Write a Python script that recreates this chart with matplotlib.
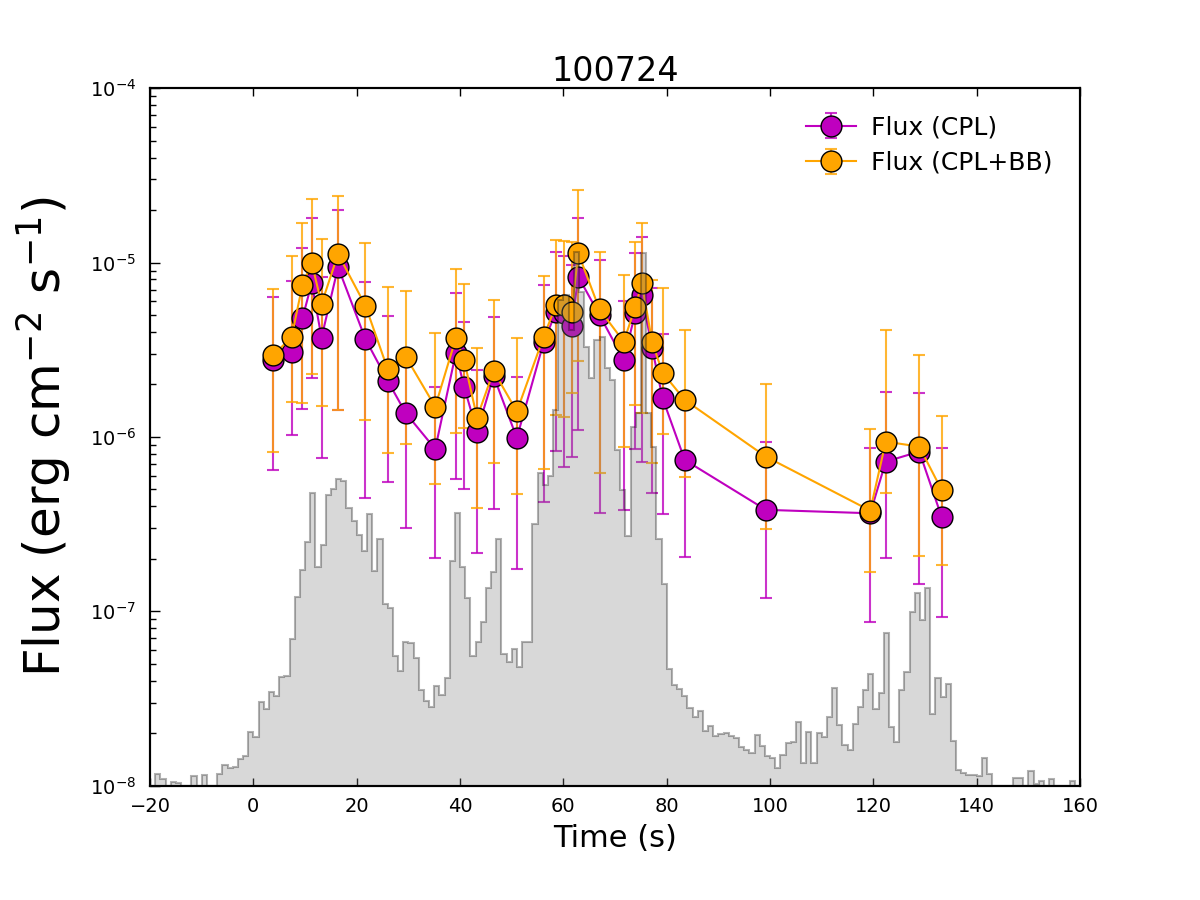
import numpy as np
import matplotlib
matplotlib.use("Agg")
import matplotlib.pyplot as plt

plt.rcParams['font.family'] = ['DejaVu Sans']
plt.rcParams['mathtext.default'] = 'regular'

title = "100724"

# time-resolved spectral bins (s)
t = [3.9, 7.4, 9.5, 11.3, 13.2, 16.4, 21.7, 26.0, 29.5, 35.2, 39.2, 40.8, 43.3, 46.5,
     51.0, 56.2, 58.6, 60.1, 61.6, 62.9, 67.0, 71.7, 73.9, 75.2, 77.2, 79.2, 83.5,
     99.2, 119.4, 122.4, 128.9, 133.2]

# CPL flux and error-bar ends
cpl = [2.76e-6, 3.07e-6, 4.78e-6, 7.63e-6, 3.71e-6, 9.42e-6, 3.64e-6, 2.10e-6, 1.37e-6,
       8.53e-7, 3.03e-6, 1.94e-6, 1.07e-6, 2.24e-6, 9.87e-7, 3.50e-6, 5.23e-6, 5.14e-6,
       4.34e-6, 8.29e-6, 5.00e-6, 2.76e-6, 5.12e-6, 6.51e-6, 3.22e-6, 1.67e-6, 7.38e-7,
       3.82e-7, 3.65e-7, 7.22e-7, 8.24e-7, 3.49e-7]
cpl_hi = [6.32e-6, 7.86e-6, 1.21e-5, 1.81e-5, 8.29e-6, 2.00e-5, 7.76e-6, 4.96e-6, 2.76e-6,
          1.94e-6, 6.66e-6, 4.58e-6, 2.42e-6, 4.85e-6, 2.20e-6, 7.43e-6, 1.15e-5, 1.09e-5,
          9.68e-6, 1.79e-5, 1.03e-5, 6.04e-6, 1.14e-5, 1.41e-5, 7.11e-6, 3.88e-6, 1.53e-6,
          9.40e-7, 8.61e-7, 1.80e-6, 1.78e-6, 8.68e-7]
cpl_lo = [6.47e-7, 1.03e-6, 1.44e-6, 2.18e-6, 7.55e-7, 1.42e-6, 4.45e-7, 5.50e-7, 3.02e-7,
          2.02e-7, 5.72e-7, 5.01e-7, 2.17e-7, 3.85e-7, 1.75e-7, 4.26e-7, 8.35e-7, 6.71e-7,
          7.65e-7, 1.10e-6, 3.68e-7, 3.82e-7, 8.50e-7, 7.22e-7, 4.79e-7, 3.62e-7, 2.05e-7,
          1.19e-7, 8.71e-8, 2.01e-7, 1.43e-7, 9.26e-8]

# CPL+BB flux and error-bar ends
cplbb = [2.95e-6, 3.74e-6, 7.43e-6, 9.97e-6, 5.79e-6, 1.12e-5, 5.66e-6, 2.45e-6, 2.89e-6,
         1.49e-6, 3.69e-6, 2.76e-6, 1.29e-6, 2.39e-6, 1.40e-6, 3.76e-6, 5.71e-6, 5.71e-6,
         5.23e-6, 1.13e-5, 5.39e-6, 3.52e-6, 5.54e-6, 7.60e-6, 3.49e-6, 2.34e-6, 1.63e-6,
         7.71e-7, 3.78e-7, 9.40e-7, 8.80e-7, 4.97e-7]
cplbb_hi = [7.02e-6, 1.09e-5, 1.69e-5, 2.31e-5, 1.36e-5, 2.41e-5, 1.29e-5, 7.27e-6, 6.90e-6,
            3.93e-6, 9.14e-6, 7.53e-6, 3.22e-6, 6.10e-6, 3.68e-6, 8.37e-6, 1.35e-5, 1.33e-5,
            1.32e-5, 2.60e-5, 1.15e-5, 8.48e-6, 1.32e-5, 1.69e-5, 7.94e-6, 7.11e-6, 4.10e-6,
            2.00e-6, 1.11e-6, 4.10e-6, 2.94e-6, 1.32e-6]
cplbb_lo = [8.17e-7, 1.59e-6, 1.56e-6, 2.30e-6, 1.51e-6, 1.43e-6, 1.25e-6, 8.07e-7, 9.08e-7,
            5.36e-7, 1.06e-6, 1.12e-6, 3.90e-7, 7.12e-7, 4.71e-7, 6.53e-7, 1.34e-6, 1.31e-6,
            1.79e-6, 2.74e-6, 6.19e-7, 8.80e-7, 1.53e-6, 1.37e-6, 7.12e-7, 1.04e-6, 5.92e-7,
            2.97e-7, 1.68e-7, 4.76e-7, 2.07e-7, 1.84e-7]

# light curve (1-s bins from -20 s to 160 s), arbitrary count units
lc_start = -20
lc_width = 1.0
lc_counts = [0, 12, 7, 0, 4, 3, 0, 0, 10, 0,
             11, 0, 0, 12, 21, 18, 19, 27, 30, 54,
             49, 84, 77, 94, 90, 109, 110, 147, 189, 216,
             244, 293, 219, 241, 291, 297, 307, 305, 278, 265,
             251, 235, 272, 215, 247, 182, 178, 130, 115, 144,
             143, 128, 96, 85, 79, 100, 91, 108, 225, 273,
             219, 188, 130, 144, 164, 198, 214, 247, 132, 124,
             137, 119, 144, 144, 262, 313, 301, 310, 376, 486,
             491, 456, 534, 494, 439, 408, 446, 449, 418, 406,
             336, 296, 250, 359, 373, 533, 373, 339, 247, 202,
             117, 101, 97, 90, 78, 69, 75, 55, 60, 50,
             52, 53, 50, 48, 39, 36, 33, 51, 40, 30,
             28, 18, 31, 43, 44, 64, 23, 54, 23, 53,
             49, 69, 98, 61, 41, 36, 62, 79, 96, 112,
             77, 93, 153, 59, 44, 96, 114, 174, 193, 166,
             198, 72, 108, 89, 102, 45, 16, 13, 11, 11,
             10, 28, 12, 0, 0, 0, 0, 8, 8, 0,
             15, 2, 5, 0, 7, 0, 0, 0, 5, 0]

fig = plt.figure(figsize=(12, 9), dpi=100)
ax = fig.add_axes([0.125, 0.127, 0.775, 0.775])

def err(vals, lo, hi):
    v = np.array(vals); return [v - np.array(lo), np.array(hi) - v]

purple = '#bf00bf'
orange = '#ffa500'

e1 = ax.errorbar(t, cpl, yerr=err(cpl, cpl_lo, cpl_hi), fmt='-o', color=purple,
                 mec='k', mfc=purple, ms=15, lw=1.5, elinewidth=1.5, capsize=4.5,
                 capthick=1.5, label='Flux (CPL)')
e2 = ax.errorbar(t, cplbb, yerr=err(cplbb, cplbb_lo, cplbb_hi), fmt='-o', color=orange,
                 mec='k', mfc=orange, ms=15, lw=1.5, elinewidth=1.5, capsize=4.5,
                 capthick=1.5, label='Flux (CPL+BB)')
for e in (e1, e2):
    for c in e[1]:
        c.set_alpha(0.8)
    for c in e[2]:
        c.set_alpha(0.8)

ax.set_yscale('log')
ax.set_xlim(-20, 160)
ax.set_ylim(1e-8, 1e-4)
ax.set_title(title, fontsize=24, pad=5)
ax.set_xlabel('Time (s)', fontsize=22, labelpad=6)
ax.set_ylabel('Flux (erg cm$^{-2}$ s$^{-1}$)', fontsize=36, labelpad=12)
ax.tick_params(axis='x', which='both', direction='in', top=True, labelsize=14,
               length=6, width=1, pad=8)
ax.tick_params(axis='y', which='major', direction='in', labelsize=14, length=7,
               width=1, pad=10)
ax.tick_params(axis='y', which='minor', direction='in', length=4, width=1)
for s in ax.spines.values():
    s.set_linewidth(1.5)

ax.legend(loc='upper right', frameon=False, numpoints=1, fontsize=18,
          borderaxespad=0.7, labelspacing=0.45, handletextpad=0.6)

ax2 = ax.twinx()
edges = lc_start + lc_width * np.arange(len(lc_counts) + 1)
centers = edges[:-1] + lc_width / 2
ax2.hist(centers, bins=edges, weights=lc_counts, histtype='stepfilled',
         facecolor='grey', edgecolor='k', lw=1.5, alpha=0.3)
ax2.set_ylim(0, 698)
ax2.set_yticks([])
ax2.set_xlim(-20, 160)
for s in ax2.spines.values():
    s.set_linewidth(1.5)

fig.savefig('out.png', dpi=100)
